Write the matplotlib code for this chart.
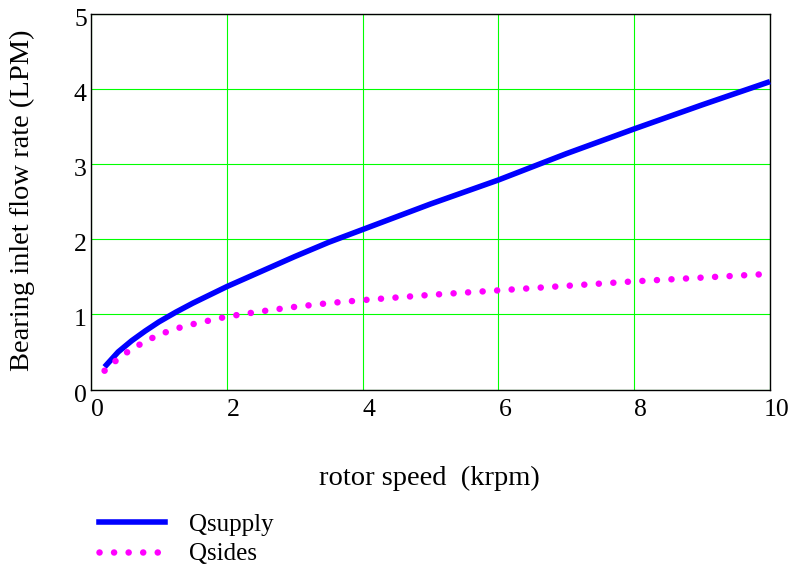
import matplotlib.pyplot as plt
from matplotlib.lines import Line2D
from matplotlib.transforms import ScaledTranslation

plt.rcParams["font.family"] = ["Liberation Serif", "DejaVu Serif"]

# rotor speed (krpm) and flow rates (LPM)
speed = [0.2, 0.4, 0.6, 0.8, 1.0, 1.25, 1.5, 1.75, 2.0, 2.5, 3.0, 3.5, 4.0,
         5.0, 6.0, 7.0, 8.0, 9.0, 10.0]
q_supply = [0.30, 0.50, 0.65, 0.78, 0.90, 1.03, 1.15, 1.26, 1.37, 1.57, 1.77,
            1.96, 2.13, 2.47, 2.79, 3.14, 3.47, 3.79, 4.10]
q_sides = [0.25, 0.41, 0.54, 0.64, 0.73, 0.81, 0.87, 0.92, 0.97, 1.04, 1.10,
           1.15, 1.19, 1.26, 1.32, 1.38, 1.44, 1.49, 1.54]

DOTS = (0, (0.01, 2.22))

fig = plt.figure(figsize=(7.94, 5.76), dpi=100)
ax = fig.add_axes([91 / 794, 1 - 389.5 / 576, (770 - 91) / 794, (389.5 - 14) / 576])

ax.plot(speed, q_supply, color="#0000ff", lw=4.0, solid_capstyle="butt",
        label="Qsupply", zorder=3, clip_on=False)
ax.plot(speed, q_sides, color="#ff00ff", lw=4.7, linestyle=DOTS,
        dash_capstyle="round", label="Qsides", zorder=3, clip_on=False)

ax.set_xlim(0, 10)
ax.set_ylim(0, 5)
ax.set_xticks([0, 2, 4, 6, 8, 10])
ax.set_yticks([0, 1, 2, 3, 4, 5])
ax.grid(True, color="#00ff00", lw=0.8)
ax.tick_params(length=0, labelsize=18.5)
ax.tick_params(axis="x", pad=7)
ax.tick_params(axis="y", pad=3)
for lab in ax.get_xticklabels():
    lab.set_transform(lab.get_transform() + ScaledTranslation(6.5 / 100, 0, fig.dpi_scale_trans))
for lab in ax.get_yticklabels():
    lab.set_transform(lab.get_transform() + ScaledTranslation(0, -3.5 / 100, fig.dpi_scale_trans))
for s in ax.spines.values():
    s.set_linewidth(1.0)
    s.set_color("black")

ax.set_xlabel("rotor speed  (krpm)", fontsize=20.5, va="center")
ax.xaxis.set_label_coords(0.4985, -0.236)
ax.set_ylabel("Bearing inlet flow rate (LPM)", fontsize=20.5, va="center")
ax.yaxis.set_label_coords(-0.1016, 0.505)

handles = [Line2D([], [], color="#0000ff", lw=4.0),
           Line2D([], [], color="#ff00ff", lw=4.7, linestyle=DOTS,
                  dash_capstyle="round")]
fig.legend(handles, ["Qsupply", "Qsides"], loc="upper left",
           bbox_to_anchor=(99 / 794, 1 - 513 / 576), frameon=False,
           borderaxespad=0, borderpad=0, fontsize=18, handlelength=2.64,
           handletextpad=0.96, labelspacing=0.29)

fig.savefig("out.png", dpi=100)
